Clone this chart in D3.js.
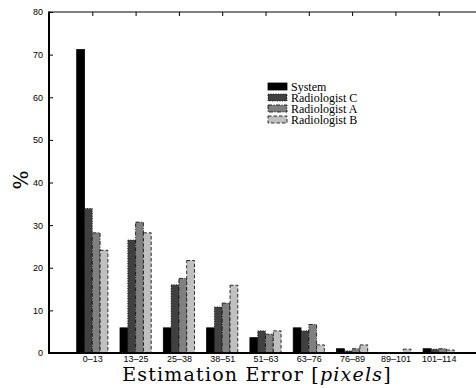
<!DOCTYPE html>
<html>
<head>
<meta charset="utf-8">
<script src="https://cdn.jsdelivr.net/npm/d3@7"></script>
<style>
  body { margin: 0; background: #fff; }
  svg { display: block; }
</style>
</head>
<body>
<svg id="chart" width="476" height="388"></svg>
<script>
// categories and series values
var categories = ["0\u201313", "13\u201325", "25\u201338", "38\u201351", "51\u201363", "63\u201376", "76\u201389", "89\u2013101", "101\u2013114"];
var series = ["System", "Radiologist C", "Radiologist A", "Radiologist B"];
var system_vals = [71.2, 5.9, 5.9, 5.9, 3.6, 5.9, 1.0, 0, 1.0];
var radC_vals = [33.9, 26.5, 16.0, 10.8, 5.2, 5.2, 0.5, 0, 0.9];
var radA_vals = [28.2, 30.7, 17.5, 11.7, 4.4, 6.7, 1.0, 0, 1.0];
var radB_vals = [24.1, 28.2, 21.7, 15.9, 5.2, 1.9, 1.9, 0.9, 0.7];
var y_ticks = [0, 10, 20, 30, 40, 50, 60, 70, 80];

var values = [system_vals, radC_vals, radA_vals, radB_vals];
var fills = ["#000000", "#404040", "#808080", "#c0c0c0"];
var dashes = [null, "1,1.5", "4,1.5,1,1.5", "3.5,2"];

var svg = d3.select("#chart");
var x0 = 49, x1 = 482, y_top = 12, y_bot = 353;

var x = d3.scalePoint().domain(categories).range([x0, x1]).padding(1);
var step = x.step();
var xs = d3.scaleBand().domain(series).range([-step * 0.36, step * 0.36]);
var y = d3.scaleLinear().domain([0, 80]).range([y_bot, y_top]);

// bars
var table = [];
categories.forEach(function(c, i){
    series.forEach(function(s, j){
        table.push({cat: c, ser: s, j: j, v: values[j][i]});
    });
});

svg.append("g").selectAll("rect")
    .data(table)
    .enter().append("rect")
    .attr("x", function(d){ return x(d.cat) + xs(d.ser); })
    .attr("y", function(d){ return y(d.v); })
    .attr("width", xs.bandwidth())
    .attr("height", function(d){ return y(0) - y(d.v); })
    .attr("fill", function(d){ return fills[d.j]; })
    .attr("stroke", "#000")
    .attr("stroke-width", 0.8)
    .attr("stroke-dasharray", function(d){ return dashes[d.j]; });

// y axis
var yAxis = d3.axisLeft(y).tickValues(y_ticks).tickSize(-4).tickPadding(6);
var gy = svg.append("g").attr("transform", "translate(" + x0 + ",0)").call(yAxis);
gy.select(".domain").remove();
gy.selectAll("text").style("font-family", "Liberation Sans, Arial, sans-serif").style("font-size", "9px").attr("fill", "#000");
gy.selectAll("line").attr("stroke", "#000");

// x axis (bottom, labels) and top ticks
var xAxis = d3.axisBottom(x).tickSize(0).tickPadding(3);
var gx = svg.append("g").attr("transform", "translate(0," + y_bot + ")").call(xAxis);
gx.select(".domain").remove();
gx.selectAll("text").style("font-family", "Liberation Sans, Arial, sans-serif").style("font-size", "9px").attr("fill", "#000");

var xTop = d3.axisTop(x).tickSize(-4).tickFormat("");
var gt = svg.append("g").attr("transform", "translate(0," + y_top + ")").call(xTop);
gt.select(".domain").remove();
gt.selectAll("line").attr("stroke", "#000");

// frame lines
svg.append("line").attr("x1", x0).attr("x2", x1).attr("y1", y_top).attr("y2", y_top)
    .attr("stroke", "#000").attr("stroke-width", 1);
svg.append("line").attr("x1", x0).attr("x2", x0).attr("y1", y_top - 0.5).attr("y2", y_bot + 1)
    .attr("stroke", "#000").attr("stroke-width", 2);
svg.append("line").attr("x1", x0 - 1).attr("x2", x1).attr("y1", y_bot).attr("y2", y_bot)
    .attr("stroke", "#000").attr("stroke-width", 2);

// axis titles
var xt = svg.append("text")
    .attr("x", 257).attr("y", 381)
    .attr("text-anchor", "middle")
    .style("font-family", "DejaVu Serif, serif")
    .style("font-size", "19px")
    .style("letter-spacing", "1.2px");
xt.append("tspan").text("Estimation Error [");
xt.append("tspan").style("font-style", "italic").text("pixels");
xt.append("tspan").text("]");

svg.append("text")
    .attr("transform", "translate(28,180) rotate(-90)")
    .attr("text-anchor", "middle")
    .style("font-family", "DejaVu Serif, serif")
    .style("font-size", "20px")
    .text("%");

// legend
var lg = svg.append("g").attr("transform", "translate(268,83)");
var row = lg.selectAll("g").data(series).enter().append("g")
    .attr("transform", function(d, i){ return "translate(0," + (i * 11) + ")"; });
row.append("rect")
    .attr("width", 19).attr("height", 7)
    .attr("fill", function(d, i){ return fills[i]; })
    .attr("stroke", "#000").attr("stroke-width", 0.8)
    .attr("stroke-dasharray", function(d, i){ return dashes[i]; });
row.append("text")
    .attr("x", 23).attr("y", 7.5)
    .style("font-family", "Liberation Serif, Times New Roman, serif")
    .style("font-size", "12px")
    .text(function(d){ return d; });
</script>
</body>
</html>
